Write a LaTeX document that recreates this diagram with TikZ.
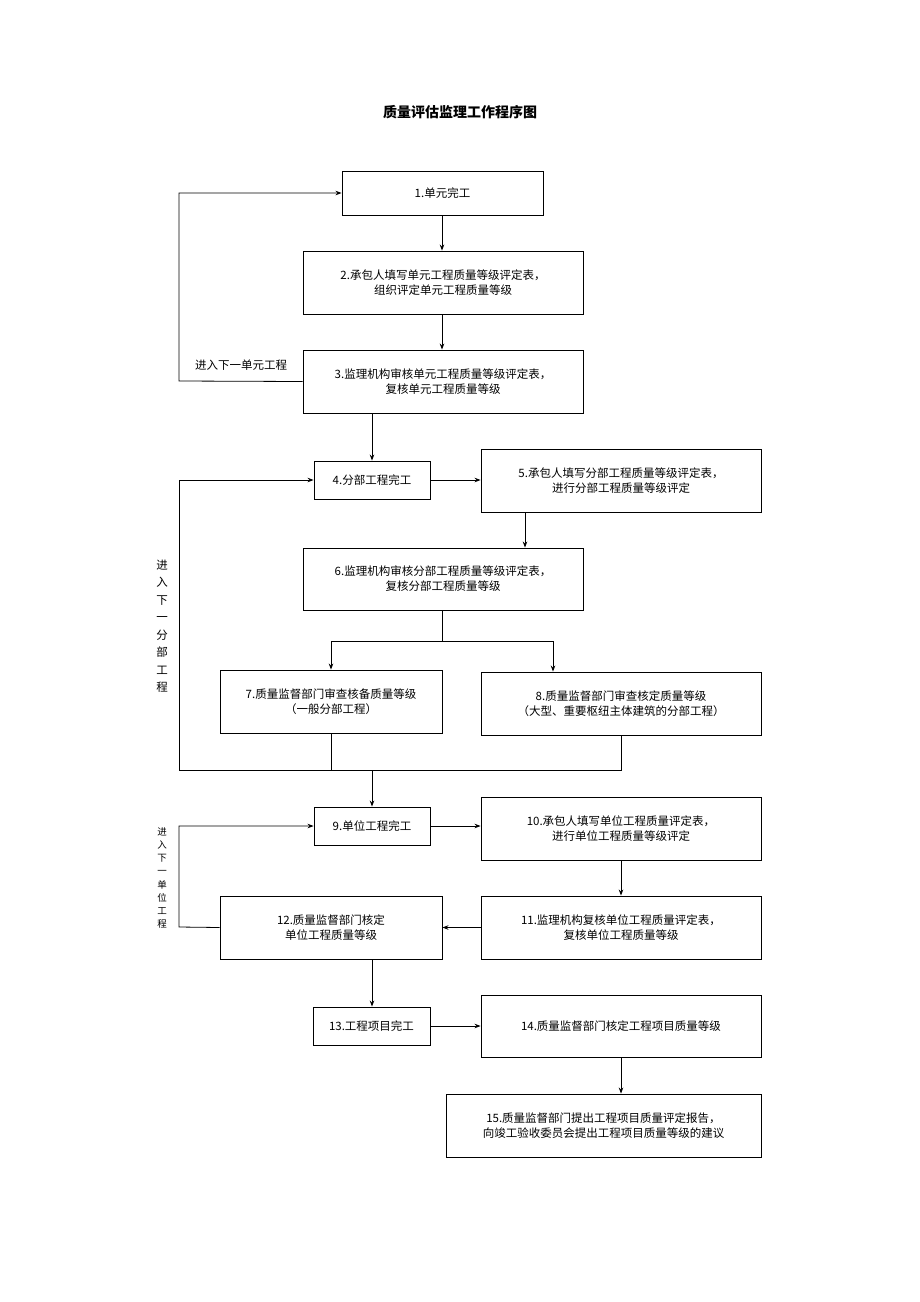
\documentclass[tikz,border=0pt]{standalone}
\usepackage{fontspec}
\newfontfamily\cjk{Noto Sans CJK SC}
\usetikzlibrary{arrows.meta}
\begin{document}
\begin{tikzpicture}[x=1pt,y=-1pt,font=\cjk\fontsize{11.5}{15}\selectfont,
 bx/.style={draw,line width=0.9pt,align=center,inner sep=0pt},
 ar/.style={-{Stealth[length=6pt,width=4.5pt]},line width=0.8pt},
 ln/.style={line width=0.8pt}]
\useasboundingbox (0,0) rectangle (920,1302);
\def\bx#1#2#3#4#5#6{\node[bx,minimum width=#3-#2,minimum height=#5-#4] (#1) at ({(#2+#3)/2},{(#4+#5)/2}) {#6};}
\node[font=\cjk\bfseries\fontsize{14}{16}\selectfont] (title) at (460,112) {质量评估监理工作程序图};
\bx{b1}{342}{543}{171}{215}{1.单元完工}
\bx{b2}{303}{583}{251}{314}{2.承包人填写单元工程质量等级评定表，\\组织评定单元工程质量等级}
\bx{b3}{303}{583}{350}{413}{3.监理机构审核单元工程质量等级评定表，\\复核单元工程质量等级}
\bx{b4}{314}{430}{461}{499}{4.分部工程完工}
\bx{b5}{481}{761}{449}{512}{5.承包人填写分部工程质量等级评定表，\\进行分部工程质量等级评定}
\bx{b6}{303}{583}{548}{610}{6.监理机构审核分部工程质量等级评定表，\\复核分部工程质量等级}
\bx{b7}{220}{442}{670}{733}{7.质量监督部门审查核备质量等级\\（一般分部工程）}
\bx{b8}{481}{761}{672}{735}{8.质量监督部门审查核定质量等级\\（大型、重要枢纽主体建筑的分部工程）}
\bx{b9}{314}{430}{807}{845}{9.单位工程完工}
\bx{b10}{481}{761}{797}{860}{10.承包人填写单位工程质量评定表，\\进行单位工程质量等级评定}
\bx{b11}{481}{761}{896}{959}{11.监理机构复核单位工程质量评定表，\\复核单位工程质量等级}
\bx{b12}{220}{442}{896}{959}{12.质量监督部门核定\\单位工程质量等级}
\bx{b13}{313}{430}{1007}{1045}{13.工程项目完工}
\bx{b14}{481}{761}{995}{1057}{14.质量监督部门核定工程项目质量等级}
\bx{b15}{446}{761}{1094}{1157}{15.质量监督部门提出工程项目质量评定报告，\\向竣工验收委员会提出工程项目质量等级的建议}
% connectors
\draw[ar] (b1.south -| 442,0) -- (b2.north -| 442,0);
\draw[ar] (b2.south -| 442,0) -- (b3.north -| 442,0);
\coordinate (l1a) at (179,381); \coordinate (l1b) at (179,193);
\draw[ar] (b3.west) -- (l1a) -- (l1b) -- (b1.west);
\node (t1) at (241,365) {进入下一单元工程};
\draw[ar] (b3.south -| 372,0) -- (b4.north -| 372,0);
\draw[ar] (b4.east) -- (b5.west |- b4.east);
\draw[ar] (b5.south -| 525,0) -- (b6.north -| 525,0);
\coordinate (s6) at (442,641); \coordinate (s7) at (331,641); \coordinate (s8) at (553,641);
\draw[ln] (b6.south -| s6) -- (s6);
\draw[ln] (s7) -- (s8);
\draw[ar] (s7) -- (b7.north -| s7);
\draw[ar] (s8) -- (b8.north -| s8);
\coordinate (j7) at (331,770); \coordinate (j8) at (621,770); \coordinate (jl) at (179,770);
\coordinate (j9) at (372,770); \coordinate (jt) at (179,480);
\draw[ln] (b7.south -| j7) -- (j7);
\draw[ln] (b8.south -| j8) -- (j8) -- (jl);
\draw[ar] (jl) -- (jt) -- (b4.west);
\draw[ar] (j9) -- (b9.north -| j9);
\node[align=center,font=\cjk\fontsize{11.5}{17.5}\selectfont] (t2) at (162,626) {进\\入\\下\\一\\分\\部\\工\\程};
\draw[ar] (b9.east) -- (b10.west |- b9.east);
\draw[ar] (b10.south -| 621,0) -- (b11.north -| 621,0);
\draw[ar] (b11.west) -- (b12.east);
\coordinate (l3a) at (179,927); \coordinate (l3b) at (179,826);
\draw[ar] (b12.west) -- (l3a) -- (l3b) -- (b9.west);
\node[align=center,font=\cjk\fontsize{9.5}{13.2}\selectfont] (t3) at (162,878) {进\\入\\下\\一\\单\\位\\工\\程};
\draw[ar] (b12.south -| 372,0) -- (b13.north -| 372,0);
\draw[ar] (b13.east) -- (b14.west |- b13.east);
\draw[ar] (b14.south -| 621,0) -- (b15.north -| 621,0);
\end{tikzpicture}
\end{document}
